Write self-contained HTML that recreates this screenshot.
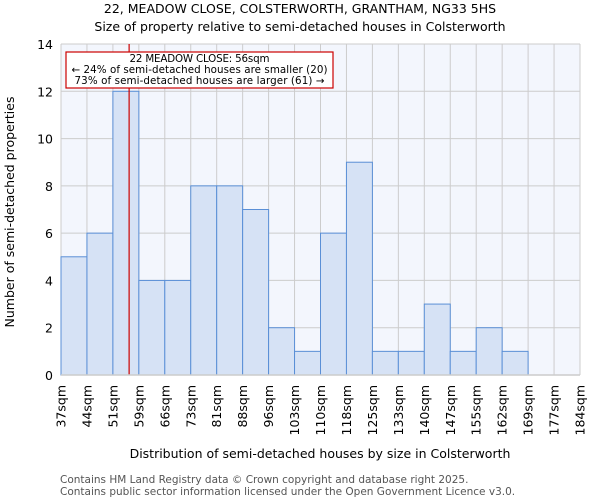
<!DOCTYPE html>
<html><head><meta charset="utf-8"><style>
body{margin:0;background:#fff;font-family:"DejaVu Sans","Liberation Sans",sans-serif}
</style></head><body>
<svg id="c" width="600" height="500" xmlns="http://www.w3.org/2000/svg" font-family="DejaVu Sans, Liberation Sans, sans-serif">
<text x="300" y="13" text-anchor="middle" font-size="12.5">22, MEADOW CLOSE, COLSTERWORTH, GRANTHAM, NG33 5HS</text>
<text x="300" y="31" text-anchor="middle" font-size="12.5">Size of property relative to semi-detached houses in Colsterworth</text>
<rect x="61" y="44" width="519" height="331" fill="#f3f6fd"/>
<g id="grid"></g><g id="bars"></g><g id="axes"></g>
<text transform="translate(14,212) rotate(-90)" text-anchor="middle" font-size="12.5">Number of semi-detached properties</text>
<text x="320" y="458" text-anchor="middle" font-size="12.5">Distribution of semi-detached houses by size in Colsterworth</text>
<text x="60" y="483" font-size="10.5" fill="#555">Contains HM Land Registry data © Crown copyright and database right 2025.</text>
<text x="60" y="495" font-size="10.5" fill="#555">Contains public sector information licensed under the Open Government Licence v3.0.</text>
<g id="ann">
<rect x="66" y="52" width="267" height="36" fill="#fff" stroke="#c00" stroke-width="1.2"/>
<text x="199.5" y="62" text-anchor="middle" font-size="10.3" textLength="140">22 MEADOW CLOSE: 56sqm</text>
<text x="199.5" y="73" text-anchor="middle" font-size="10.3" textLength="256">← 24% of semi-detached houses are smaller (20)</text>
<text x="199.5" y="84" text-anchor="middle" font-size="10.3" textLength="250">73% of semi-detached houses are larger (61) →</text>
</g>
</svg>
<script>
const categories=["37sqm","44sqm","51sqm","59sqm","66sqm","73sqm","81sqm","88sqm","96sqm","103sqm","110sqm","118sqm","125sqm","133sqm","140sqm","147sqm","155sqm","162sqm","169sqm","177sqm","184sqm"];
const counts=[5,6,12,4,4,8,8,7,2,1,6,9,1,1,3,1,2,1,0,0];
const yTicks=[0,2,4,6,8,10,12,14];
const markerValue=56;
const binStarts=[37,44,51,59,66,73,81,88,96,103,110,118,125,133,140,147,155,162,169,177,184];
const NS="http://www.w3.org/2000/svg";
const X0=61,X1=580,Y0=375,Y1=44,YMAX=14;
const bw=(X1-X0)/counts.length;
const xb=i=>X0+i*bw;
const y=v=>Y0-(v/YMAX)*(Y0-Y1);
function mk(t,a,p){const e=document.createElementNS(NS,t);for(const k in a)e.setAttribute(k,a[k]);p.appendChild(e);return e;}
const grid=document.getElementById('grid'),bars=document.getElementById('bars'),axes=document.getElementById('axes');
yTicks.forEach(t=>{const l=mk('line',{x1:X0,x2:X1,y1:y(t),y2:y(t),stroke:'#ccc'},grid);


const tx=mk('text',{x:X0-8,y:y(t)+5,'text-anchor':'end','font-size':'12.5'},axes);tx.textContent=t;

});
categories.forEach((c,i)=>{const l=mk('line',{x1:xb(i),x2:xb(i),y1:Y1,y2:Y0,stroke:'#ccc'},grid);


const tx=mk('text',{transform:`translate(${xb(i)+4.5},385) rotate(-90)`,'text-anchor':'end','font-size':'12.5'},axes);tx.textContent=c;

});
counts.forEach((v,i)=>{if(v<=0)return;const r=mk('rect',{x:xb(i),y:y(v),width:bw,height:Y0-y(v),fill:'#d6e2f5',stroke:'#5a8fd6','stroke-width':1},bars);

});
const ax=mk('line',{x1:X0,x2:X1,y1:Y0,y2:Y0,stroke:'#ccc','stroke-width':1.5},axes);


let mi=0;for(let i=0;i<binStarts.length-1;i++)if(markerValue>=binStarts[i])mi=i;
const mx=xb(mi)+(markerValue-binStarts[mi])/(binStarts[mi+1]-binStarts[mi])*bw;
const m=mk('line',{x1:mx,x2:mx,y1:Y1,y2:Y0,stroke:'#c00','stroke-width':1.2},bars);


</script>
</body></html>
